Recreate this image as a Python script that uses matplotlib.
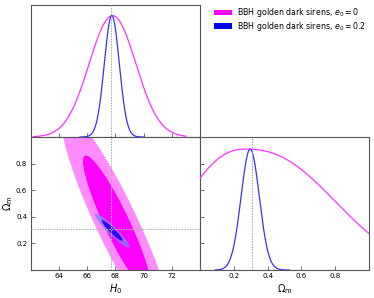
import numpy as np
import matplotlib
matplotlib.use("Agg")
import matplotlib.pyplot as plt
from matplotlib.patches import Patch

# ---------------- data ----------------
labels = ["BBH golden dark sirens, $e_0 = 0$", "BBH golden dark sirens, $e_0 = 0.2$"]
line_colors = ["#ff33ff", "#3333ff"]
fill_outer = ["#ff8cff", "#8080ff"]
fill_inner = ["#ff00ff", "#0000ff"]
fill_alpha = [1.0, 0.8]

# fiducial values
H0_true = 67.7
Om_true = 0.31

# 2D Gaussian approximations: mean H0, mean Om, sigma H0, sigma Om, correlation
mean_H0 = [68.115, 67.77]
mean_Om = [0.35, 0.297]
sig_H0_2d = [1.605, 0.50]
sig_Om_2d = [0.34, 0.052]
rho_2d = [-0.911, -0.94]
contour_mass = [0.68, 0.95]

# 1D marginal shapes
h0_peak = [67.8, 67.75]
h0_sigma = [1.65, 0.53]
h0_range = [(62.2, 73.0), (65.5, 70.0)]
om_peak = [0.27, 0.297]
om_sig_left = [0.348, 0.054]
om_sig_right = [0.503, 0.054]
om_power = [2.35, 2.0]
om_range = [(0.0, 1.0), (0.09, 0.53)]

H0_lim = (62, 74)
Om_lim = (0, 1)
H0_ticks = [64, 66, 68, 70, 72]
Om_ticks = [0.2, 0.4, 0.6, 0.8]

# ---------------- figure ----------------
fig = plt.figure(figsize=(3.74, 2.98), dpi=100)
L, W = 30.7 / 374, 169.3 / 374
ax_top = fig.add_axes([L, 1 - 137 / 298, W, 132.3 / 298])
ax_2d = fig.add_axes([L, 1 - 270 / 298, W, 133 / 298])
ax_om = fig.add_axes([L + W, 1 - 270 / 298, 169 / 374, 133 / 298])

spine_col = "#555555"
for ax in (ax_top, ax_2d, ax_om):
    for s in ax.spines.values():
        s.set_color(spine_col)
        s.set_linewidth(0.8)
    ax.tick_params(direction="in", length=3, width=0.6, colors=spine_col,
                   labelsize=5, labelcolor="black", pad=2.5)

truth_kw = dict(color="#b0b0b0", lw=0.8, ls=(0, (1.5, 1)), zorder=5)

# 2D contours
hg = np.linspace(H0_lim[0], H0_lim[1], 500)
og = np.linspace(Om_lim[0], Om_lim[1], 500)
HH, OO = np.meshgrid(hg, og)
levels_chi2 = [-2 * np.log(1 - p) for p in contour_mass]
for i in range(2):
    dx = (HH - mean_H0[i]) / sig_H0_2d[i]
    dy = (OO - mean_Om[i]) / sig_Om_2d[i]
    r = rho_2d[i]
    chi2 = (dx ** 2 - 2 * r * dx * dy + dy ** 2) / (1 - r ** 2)
    ax_2d.contourf(HH, OO, chi2, levels=[0, levels_chi2[0], levels_chi2[1]],
                   colors=[fill_inner[i], fill_outer[i]], alpha=fill_alpha[i],
                   zorder=2 + i, antialiased=True)
ax_2d.axvline(H0_true, **truth_kw)
ax_2d.axhline(Om_true, **truth_kw)
ax_2d.set_xlim(*H0_lim)
ax_2d.set_ylim(*Om_lim)
ax_2d.set_xticks(H0_ticks)
ax_2d.set_yticks(Om_ticks)
ax_2d.set_yticklabels([f"{t:.1f}" for t in Om_ticks])
ax_2d.set_xlabel("$H_0$", fontsize=7, labelpad=2)
ax_2d.set_ylabel(r"$\Omega_{\rm m}$", fontsize=7, labelpad=1)

# 1D H0
for i in range(2):
    x = np.linspace(h0_range[i][0], h0_range[i][1], 400)
    y = np.exp(-0.5 * ((x - h0_peak[i]) / h0_sigma[i]) ** 2)
    ax_top.plot(x, y, color=line_colors[i], lw=0.9, zorder=3)
ax_top.axvline(H0_true, **truth_kw)
ax_top.set_xlim(*H0_lim)
ax_top.set_ylim(0, 1.09)
ax_top.set_xticks(H0_ticks)
ax_top.set_xticklabels([])
ax_top.set_yticks([])

# 1D Om
for i in range(2):
    x = np.linspace(om_range[i][0], om_range[i][1], 400)
    d = x - om_peak[i]
    s = np.where(d < 0, om_sig_left[i], om_sig_right[i])
    y = np.exp(-0.5 * (np.abs(d) / s) ** om_power[i])
    ax_om.plot(x, y, color=line_colors[i], lw=0.9, zorder=3)
ax_om.axvline(Om_true, **truth_kw)
ax_om.set_xlim(*Om_lim)
ax_om.set_ylim(0, 1.1)
ax_om.set_xticks(Om_ticks)
ax_om.set_xticklabels([f"{t:.1f}" for t in Om_ticks])
ax_om.set_yticks([t * 1.1 for t in Om_ticks])
ax_om.set_yticklabels([])
ax_om.set_xlabel(r"$\Omega_{\rm m}$", fontsize=7, labelpad=2)

handles = [Patch(facecolor=fill_inner[0], edgecolor="none"),
           Patch(facecolor=fill_inner[1], edgecolor="none")]
fig.legend(handles, labels, loc="upper left", bbox_to_anchor=(0.565, 0.99),
           frameon=False, fontsize=5.7, handlelength=2.2, handletextpad=0.6,
           labelspacing=0.05, borderaxespad=0)

fig.savefig("out.png", dpi=100)
